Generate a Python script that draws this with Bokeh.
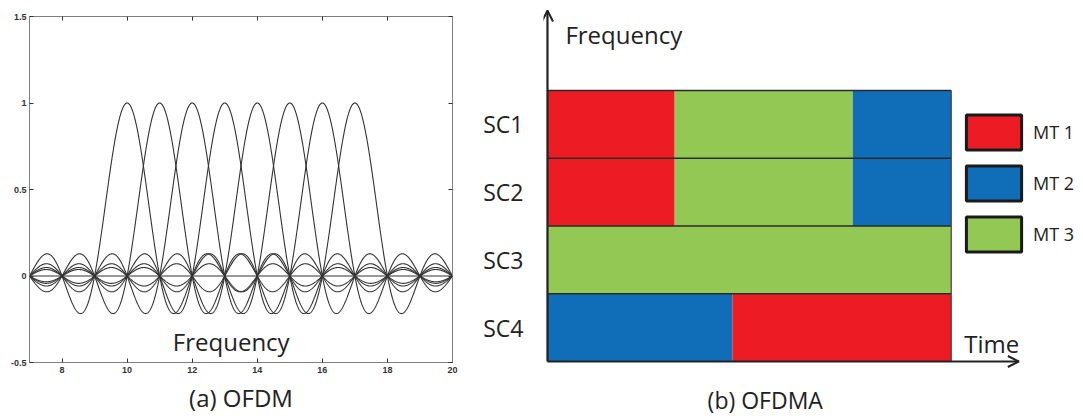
import numpy as np
from bokeh.plotting import figure
from bokeh.layouts import row, column
from bokeh.models import (LinearAxis, Span, Range1d, CustomJSTickFormatter, FixedTicker,
                          ColumnDataSource, Arrow, OpenHead, Legend, LegendItem)
from bokeh.core.properties import value
from bokeh.embed import file_html
from bokeh.resources import INLINE

# ---------------- data ----------------
# (a) OFDM: sinc-shaped subcarrier spectra centred on these frequencies
subcarrier_centers = [10, 11, 12, 13, 14, 15, 16, 17]
freq_start, freq_end = 7, 20
x_ticks = [8, 10, 12, 14, 16, 18, 20]
y_ticks = [-0.5, 0, 0.5, 1, 1.5]

# (b) OFDMA: sub-channel / time allocation to mobile terminals
subchannels = ["SC1", "SC2", "SC3", "SC4"]
users = ["MT 1", "MT 2", "MT 3"]
user_colors = ["#ED1C24", "#106EB8", "#92C853"]
seg_channel = ["SC1", "SC1", "SC1", "SC2", "SC2", "SC2", "SC3", "SC4", "SC4"]
seg_user = ["MT 1", "MT 3", "MT 2", "MT 1", "MT 3", "MT 2", "MT 3", "MT 2", "MT 1"]
seg_start = [0.0, 0.315, 0.756, 0.0, 0.315, 0.756, 0.0, 0.0, 0.458]
seg_end = [0.315, 0.756, 1.0, 0.315, 0.756, 1.0, 1.0, 0.458, 1.0]
total_time = 1.0

FONT = "Open Sans"
TXT = "#222222"

# ---------------- (a) OFDM ----------------
p1 = figure(width=480, height=416, x_range=(freq_start, freq_end), y_range=(-0.5, 1.5),
            output_backend="svg", toolbar_location=None,
            min_border_left=29, min_border_right=28, min_border_top=16, min_border_bottom=53)
p1.grid.visible = False
p1.outline_line_color = "#808080"
p1.background_fill_color = "white"

fgrid = np.linspace(freq_start, freq_end, 1301)
for c in subcarrier_centers:
    p1.line(fgrid, np.sinc(fgrid - c), line_color="#333333", line_width=1.1)
p1.add_layout(Span(location=0, dimension="width", line_color="#333333", line_width=1))

fmt = CustomJSTickFormatter(code="return tick.toString();")
blank = CustomJSTickFormatter(code="return '';")

def style_axis(ax, labels=True):
    ax.axis_line_color = "#808080"
    ax.major_tick_line_color = "#333333"
    ax.major_tick_in = 4
    ax.major_tick_out = 0
    ax.minor_tick_line_alpha = 0
    ax.major_label_text_font = "Liberation Sans"
    ax.major_label_text_font_size = "9px"
    ax.major_label_text_font_style = "bold"
    ax.major_label_text_color = "#333333"
    if not labels:
        ax.formatter = blank
        ax.major_label_standoff = 0

p1.xaxis.ticker = FixedTicker(ticks=x_ticks)
p1.yaxis.ticker = FixedTicker(ticks=y_ticks)
p1.xaxis.formatter = fmt
p1.yaxis.formatter = fmt
style_axis(p1.xaxis[0])
style_axis(p1.yaxis[0])
p1.xaxis.major_label_standoff = 4
p1.yaxis.major_label_standoff = 3
p1.xaxis.axis_label = "(a) OFDM"
p1.xaxis.axis_label_text_font = FONT
p1.xaxis.axis_label_text_font_size = "24px"
p1.xaxis.axis_label_text_font_style = "normal"
p1.xaxis.axis_label_text_color = TXT
p1.xaxis.axis_label_standoff = 5

top_ax = LinearAxis(ticker=FixedTicker(ticks=x_ticks))
style_axis(top_ax, labels=False)
p1.add_layout(top_ax, "above")
right_ax = LinearAxis(ticker=FixedTicker(ticks=y_ticks))
style_axis(right_ax, labels=False)
p1.add_layout(right_ax, "right")

p1.text(x=[13.2], y=[-0.379], text=["Frequency"], text_font=value(FONT),
        text_font_size="24px", text_color=TXT, text_align="center",
        text_baseline="alphabetic")

# ---------------- (b) OFDMA ----------------
# frame spans 540..1083 px horizontally and the full height vertically
XS, YS = 406.0, 67.75  # pixels per time unit / per sub-channel row
p2 = figure(width=603, height=416, output_backend="svg", toolbar_location=None,
            x_range=Range1d(-4 / XS, 539 / XS), y_range=Range1d(-55 / YS, 361 / YS),
            min_border_left=60, min_border_right=0, min_border_top=0, min_border_bottom=0)
p2.grid.visible = False
p2.outline_line_alpha = 0
p2.xaxis.visible = False

n_ch = len(subchannels)
row_bottom = {ch: n_ch - 1 - i for i, ch in enumerate(subchannels)}
color_of = dict(zip(users, user_colors))
src = ColumnDataSource(dict(
    left=seg_start, right=seg_end,
    bottom=[row_bottom[c] for c in seg_channel],
    top=[row_bottom[c] + 1 for c in seg_channel],
    color=[color_of[u] for u in seg_user],
))
p2.quad(left="left", right="right", bottom="bottom", top="top", fill_color="color",
        line_alpha=0, source=src)

# row separators and frame
p2.segment(x0=[0] * n_ch, x1=[total_time] * n_ch, y0=list(range(1, n_ch + 1)),
           y1=list(range(1, n_ch + 1)), line_color="#2a2a2a", line_width=1.6)
p2.segment(x0=[total_time], x1=[total_time], y0=[0], y1=[n_ch],
           line_color="#444444", line_width=1.2)

# axes arrows
p2.add_layout(Arrow(end=OpenHead(size=11, line_width=2, line_color="#222222"),
                    x_start=0, y_start=0, x_end=0, y_end=351 / YS,
                    line_width=2.2, line_color="#222222"))
p2.add_layout(Arrow(end=OpenHead(size=11, line_width=2, line_color="#222222"),
                    x_start=0, y_start=0, x_end=474 / XS, y_end=0,
                    line_width=2.2, line_color="#222222"))

# sub-channel labels via the y axis
yax = p2.yaxis[0]
yax.ticker = FixedTicker(ticks=[row_bottom[c] + 0.5 for c in subchannels])
yax.major_label_overrides = {row_bottom[c] + 0.5: c for c in subchannels}
yax.axis_line_alpha = 0
yax.major_tick_line_alpha = 0
yax.minor_tick_line_alpha = 0
yax.major_label_standoff = 14
yax.major_label_text_font = FONT
yax.major_label_text_font_size = "23px"
yax.major_label_text_color = TXT

p2.text(x=[18 / XS], y=[327 / YS], text=["Frequency"], text_font=value(FONT),
        text_font_size="24px", text_color=TXT, text_baseline="alphabetic")
p2.text(x=[419 / XS], y=[18 / YS], text=["Time"], text_font=value(FONT),
        text_font_size="24px", text_color=TXT, text_baseline="alphabetic")
p2.text(x=[219 / XS], y=[-38 / YS], text=["(b) OFDMA"], text_font=value(FONT),
        text_font_size="23px", text_color=TXT, text_align="center",
        text_baseline="middle")

# legend (proxy renderers carry the legend styling only; area legends are inset 10%)
items = []
for u, col in zip(users, user_colors):
    r = p2.quad(left=[np.nan], right=[np.nan], bottom=[np.nan], top=[np.nan],
                fill_color=col, line_color="#1a1a1a", line_width=3)
    items.append(LegendItem(label=u, renderers=[r]))
legend = Legend(items=items, location=(416, 160), glyph_width=69, glyph_height=44,
                spacing=7, label_standoff=5, padding=0, margin=0,
                label_text_font=FONT, label_text_font_size="18px", label_text_color=TXT,
                border_line_alpha=0, background_fill_alpha=0)
p2.add_layout(legend)

layout = row(p1, column(p2))
open("out.html", "w").write(file_html(layout, INLINE))
